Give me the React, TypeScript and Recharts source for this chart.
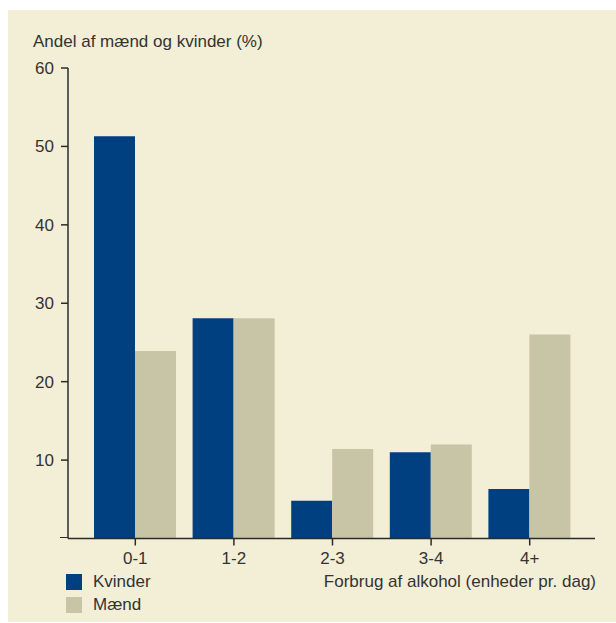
import { BarChart, Bar, XAxis, YAxis } from 'recharts';

const categories = ['0-1', '1-2', '2-3', '3-4', '4+'];
const kvinder = [51.3, 28.1, 4.8, 11.0, 6.3];
const maend = [23.9, 28.1, 11.4, 12.0, 26.0];
const yTicks = [10, 20, 30, 40, 50, 60];

const series = [
  { key: 'kvinder', name: 'Kvinder', color: '#004080' },
  { key: 'maend', name: 'Mænd', color: '#c8c4a6' },
];

const data = categories.map((c, i) => ({ cat: c, kvinder: kvinder[i], maend: maend[i] }));

const font = '"Liberation Sans", Arial, sans-serif';
const textColor = '#333333';
const axisColor = '#2b2b2b';

export default function App() {
  return (
    <div
      style={{
        position: 'absolute',
        left: 8,
        top: 10,
        width: 608,
        height: 612,
        background: '#f3eed6',
        fontFamily: font,
        color: textColor,
      }}
    >
      <div style={{ position: 'absolute', left: 25, top: 22, fontSize: 17, lineHeight: '20px' }}>
        Andel af mænd og kvinder (%)
      </div>
      <BarChart
        width={608}
        height={612}
        data={data}
        margin={{ top: 58, right: 21, bottom: 53.5, left: 0 }}
        barSize={41}
        barGap={0}
      >
        <XAxis
          dataKey="cat"
          height={30}
          padding={{ left: 18, right: 16 }}
          axisLine={{ stroke: axisColor, strokeWidth: 1.5 }}
          tickLine={{ stroke: axisColor, strokeWidth: 1.5 }}
          tickSize={7}
          tickMargin={6}
          tick={{ fill: textColor, fontSize: 17, fontFamily: font }}
        />
        <YAxis
          width={60}
          domain={[0, 60]}
          ticks={yTicks}
          interval={0}
          axisLine={{ stroke: axisColor, strokeWidth: 1.5 }}
          tickLine={{ stroke: axisColor, strokeWidth: 1.5 }}
          tickSize={7}
          tickMargin={7}
          tick={{ fill: textColor, fontSize: 17, fontFamily: font }}
        />
        {series.map((s) => (
          <Bar key={s.key} dataKey={s.key} name={s.name} fill={s.color} isAnimationActive={false} />
        ))}
      </BarChart>
      {/* x axis line runs a bit past the y axis */}
      <div style={{ position: 'absolute', left: 52, top: 526.8, width: 8, height: 1.5, background: axisColor }} />
      {series.map((s, i) => (
        <div key={s.key} style={{ position: 'absolute', left: 58, top: 564 + i * 23, display: 'flex', alignItems: 'center' }}>
          <div style={{ width: 16, height: 16, background: s.color }} />
          <span style={{ marginLeft: 11, fontSize: 17, lineHeight: '16px' }}>{s.name}</span>
        </div>
      ))}
      <div style={{ position: 'absolute', right: 20, top: 562, fontSize: 17, lineHeight: '20px' }}>
        Forbrug af alkohol (enheder pr. dag)
      </div>
    </div>
  );
}
